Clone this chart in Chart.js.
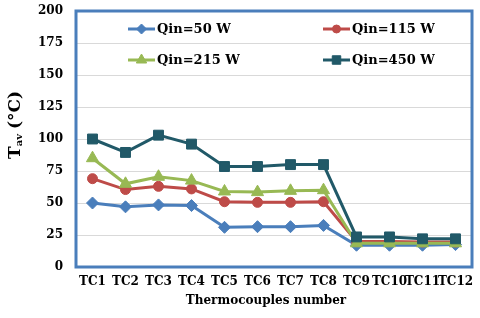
<!DOCTYPE html>
<html>
<head>
<meta charset="utf-8">
<script src="https://cdn.jsdelivr.net/npm/chart.js@4/dist/chart.umd.min.js"></script>
<style>
    body { margin: 0; background: #fff; }
    #box { width: 480px; height: 318px; }
</style>
</head>
<body>
<div id="box"><canvas id="myChart" width="480" height="318"></canvas></div>
<script>
// 測點名稱
const labels = ['TC1', 'TC2', 'TC3', 'TC4', 'TC5', 'TC6', 'TC7', 'TC8', 'TC9', 'TC10', 'TC11', 'TC12'];
// 各加熱功率下的平均溫度 (°C)
const q50 = [50, 47, 48.5, 48, 31, 31.5, 31.5, 32.5, 17, 17, 17, 17.5];
const q115 = [69, 60.5, 63, 61, 51, 50.5, 50.5, 51, 20, 20, 19.5, 19.5];
const q215 = [85, 65, 70.5, 67.5, 59, 58.5, 59.5, 60, 18.5, 18.5, 18.5, 18.5];
const q450 = [100, 89.5, 103, 96, 78.5, 78.5, 80, 80, 23.5, 23.5, 22, 22];
const seriesNames = ['Qin=50 W', 'Qin=115 W', 'Qin=215 W', 'Qin=450 W'];
const yTicks = [0, 25, 50, 75, 100, 125, 150, 175, 200];

const FONT = '"DejaVu Serif", "Liberation Serif", serif';
const frameBlue = '#4A7EBB';

function makeSet(name, data, color, style, radius, order) {
    return {
        label: name,
        data: data,
        borderColor: color,
        backgroundColor: color,
        pointBackgroundColor: color,
        pointBorderColor: color,
        pointStyle: style,
        pointRadius: radius,
        pointBorderWidth: 1,
        borderWidth: 3,
        tension: 0,
        order: order
    };
}

// 去掉刻度標籤造成的額外留白
function noPad(scale) {
    scale.paddingTop = 0;
    scale.paddingBottom = 0;
    scale.paddingLeft = 0;
    scale.paddingRight = 0;
}

// 畫外框、圖例、軸標題
const decor = {
    id: 'decor',
    beforeDatasetsDraw(chart) {
        const a = chart.chartArea, ctx = chart.ctx;
        ctx.save();
        ctx.strokeStyle = frameBlue;
        ctx.lineWidth = 3;
        ctx.strokeRect(a.left, a.top, a.right - a.left, a.bottom - a.top);
        ctx.restore();
    },
    afterDraw(chart) {
        const a = chart.chartArea, ctx = chart.ctx;
        ctx.save();
        // 圖例
        const spots = [
            [a.left + 52, a.top + 18], [a.left + 247, a.top + 18],
            [a.left + 52, a.top + 49], [a.left + 247, a.top + 49]
        ];
        chart.data.datasets.forEach((ds, i) => {
            const x = spots[i][0], y = spots[i][1];
            ctx.strokeStyle = ds.borderColor;
            ctx.lineWidth = 3;
            ctx.beginPath();
            ctx.moveTo(x, y);
            ctx.lineTo(x + 27, y);
            ctx.stroke();
            ctx.fillStyle = ds.backgroundColor;
            ctx.lineWidth = 1;
            Chart.helpers.drawPoint(ctx, {pointStyle: ds.pointStyle, radius: ds.pointRadius - 1, rotation: 0, borderWidth: 1}, x + 13.5, y);
            ctx.fillStyle = '#000';
            ctx.font = 'bold 13px ' + FONT;
            ctx.textAlign = 'left';
            ctx.textBaseline = 'middle';
            ctx.fillText(ds.label, x + 29, y + 1);
        });
        // X 軸標題
        ctx.fillStyle = '#000';
        ctx.font = 'bold 12px ' + FONT;
        ctx.textAlign = 'center';
        ctx.textBaseline = 'middle';
        ctx.fillText('Thermocouples number', (a.left + a.right) / 2 - 8, 301);
        // Y 軸標題 T_av (°C)
        ctx.translate(20, 159);
        ctx.rotate(-Math.PI / 2);
        ctx.textAlign = 'left';
        ctx.textBaseline = 'alphabetic';
        ctx.font = 'bold 17px ' + FONT;
        ctx.fillText('T', 0, 0);
        let w = ctx.measureText('T').width;
        ctx.font = 'bold 10px ' + FONT;
        ctx.fillText('av', w, 2);
        w += ctx.measureText('av').width + 5;
        ctx.font = 'bold 17px ' + FONT;
        ctx.fillText('(°C)', w, 0);
        ctx.restore();
    }
};

let myChart = new Chart(document.getElementById('myChart'), {
    type: 'line',
    data: {
        labels: labels,
        datasets: [
            makeSet(seriesNames[0], q50, '#4A7EBB', 'rectRot', 6, 3),
            makeSet(seriesNames[1], q115, '#BE4B48', 'circle', 5, 2),
            makeSet(seriesNames[2], q215, '#98B954', 'triangle', 7, 1),
            makeSet(seriesNames[3], q450, '#215968', 'rect', 7, 0)
        ]
    },
    options: {
        responsive: false,
        animation: false,
        layout: { padding: { top: 11, right: 7, left: 0, bottom: 0 } },
        plugins: {
            legend: { display: false },
            tooltip: { enabled: false }
        },
        scales: {
            x: {
                offset: true,
                grid: { display: false, drawTicks: false, offset: true },
                border: { display: false },
                ticks: {
                    autoSkip: false, maxRotation: 0, minRotation: 0, padding: 8,
                    color: '#000', font: { family: FONT, size: 12, weight: 'bold' }
                },
                afterFit(scale) { scale.height = 51; noPad(scale); }
            },
            y: {
                min: 0, max: 200,
                afterBuildTicks(scale) { scale.ticks = yTicks.map(v => ({value: v})); },
                grid: { color: '#D9D9D9', lineWidth: 1, drawTicks: false },
                border: { display: false },
                ticks: {
                    padding: 13,
                    color: '#000', font: { family: FONT, size: 12, weight: 'bold' }
                },
                afterFit(scale) { scale.width = 76; noPad(scale); }
            }
        }
    },
    plugins: [decor]
});
</script>
</body>
</html>
